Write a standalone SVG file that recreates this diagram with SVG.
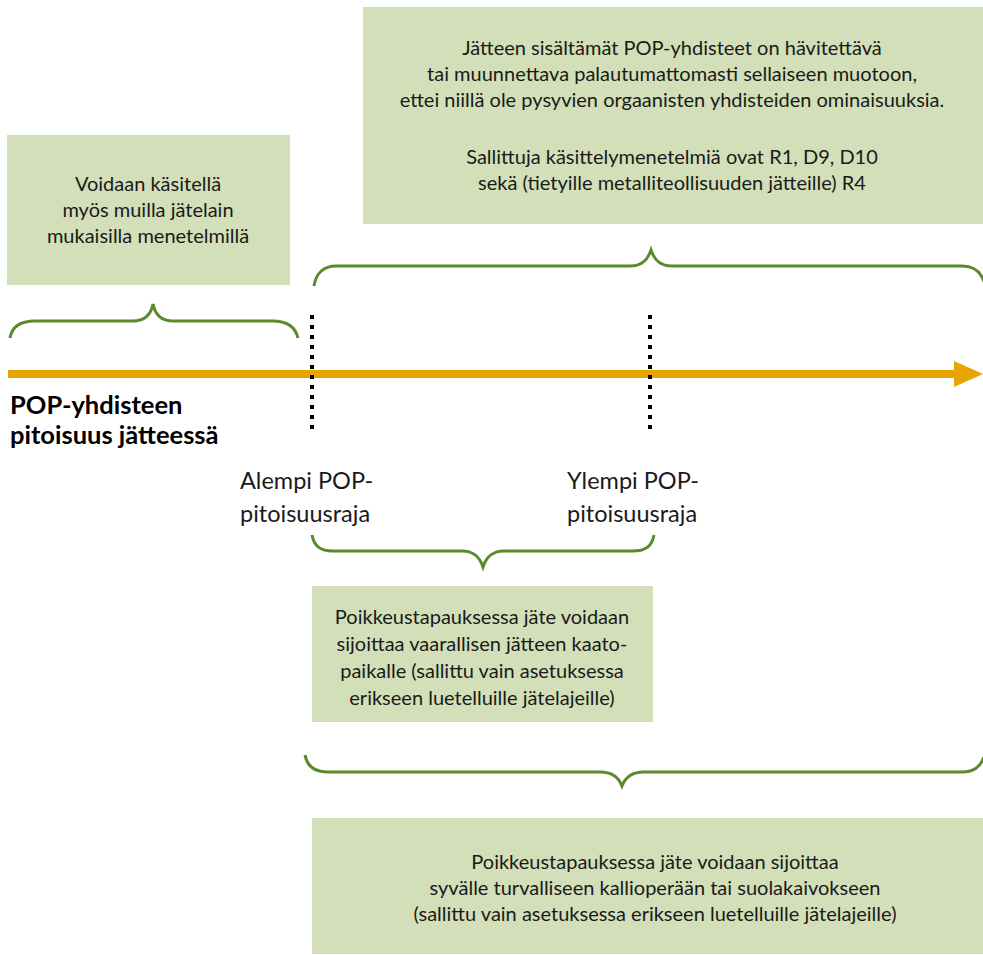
<svg xmlns="http://www.w3.org/2000/svg" width="983" height="955" viewBox="0 0 983 955">
<defs>
<style>
.box{fill:#D3DFB8;}
.t{font-family:Lato,"Liberation Sans",sans-serif;font-size:20px;fill:#1a1a1a;text-anchor:middle;}
.lbl{font-family:Lato,"Liberation Sans",sans-serif;font-size:23.5px;fill:#1a1a1a;}
.bold{font-family:Lato,"Liberation Sans",sans-serif;font-size:25.5px;font-weight:bold;fill:#000;}
.brace{fill:none;stroke:#5A8A2A;stroke-width:3;}
.dots{stroke:#000;stroke-width:4;stroke-dasharray:4 6;}
</style>
</defs>
<rect width="983" height="955" fill="#fff"/>
<g id="box-top">
<rect class="box" x="363" y="7" width="620" height="217"/>
<text class="t" x="672" y="55">Jätteen sisältämät POP-yhdisteet on hävitettävä</text>
<text class="t" x="672" y="81">tai muunnettava palautumattomasti sellaiseen muotoon,</text>
<text class="t" x="672" y="107">ettei niillä ole pysyvien orgaanisten yhdisteiden ominaisuuksia.</text>
<text class="t" x="672" y="164">Sallittuja käsittelymenetelmiä ovat R1, D9, D10</text>
<text class="t" x="672" y="190">sekä (tietyille metalliteollisuuden jätteille) R4</text>
</g>
<g id="box-left">
<rect class="box" x="7" y="135" width="283" height="150"/>
<text class="t" x="148" y="191">Voidaan käsitellä</text>
<text class="t" x="148" y="217">myös muilla jätelain</text>
<text class="t" x="148" y="243">mukaisilla menetelmillä</text>
</g>
<g id="box-mid">
<rect class="box" x="312" y="586" width="341" height="136"/>
<text class="t" x="482" y="624">Poikkeustapauksessa jäte voidaan</text>
<text class="t" x="482" y="651">sijoittaa vaarallisen jätteen kaato-</text>
<text class="t" x="482" y="678">paikalle (sallittu vain asetuksessa</text>
<text class="t" x="482" y="705">erikseen luetelluille jätelajeille)</text>
</g>
<g id="box-bottom">
<rect class="box" x="312" y="818" width="671" height="136"/>
<text class="t" x="655" y="869">Poikkeustapauksessa jäte voidaan sijoittaa</text>
<text class="t" x="655" y="895">syvälle turvalliseen kallioperään tai suolakaivokseen</text>
<text class="t" x="655" y="921">(sallittu vain asetuksessa erikseen luetelluille jätelajeille)</text>
</g>
<g id="axis">
<line x1="8" y1="374" x2="958" y2="374" stroke="#E8A400" stroke-width="8"/>
<polygon points="954,361 983,374 954,387" fill="#E8A400"/>
<text class="bold" x="10" y="414">POP-yhdisteen</text>
<text class="bold" x="10" y="444">pitoisuus jätteessä</text>
</g>
<g id="limit-lower">
<line class="dots" x1="312" y1="315" x2="312" y2="433"/>
<text class="lbl" x="240" y="489">Alempi POP-</text>
<text class="lbl" x="240" y="522">pitoisuusraja</text>
</g>
<g id="limit-upper">
<line class="dots" x1="650" y1="315" x2="650" y2="433"/>
<text class="lbl" x="567" y="489">Ylempi POP-</text>
<text class="lbl" x="567" y="522">pitoisuusraja</text>
</g>
<g id="connectors">
<path class="brace" d="M10,338 C12,326 22,321 35,321 L133,321 C146,321 151,314 153,304 C155,314 160,321 173,321 L273,321 C286,321 295,326 298,338"/>
<path class="brace" d="M314,286 C316,273 324,266 336,266 L630,266 C643,266 648,259 651,250 C654,259 659,266 672,266 L962,266 C974,266 981,272 984,282"/>
<path class="brace" d="M312,535 C314,546 320,551 333,551 L462,551 C475,551 480,558 483,567 C486,558 491,551 504,551 L633,551 C646,551 652,546 654,535"/>
<path class="brace" d="M305,755 C307,766 314,772 328,772 L600,772 C613,772 619,778 622,786 C625,778 631,772 644,772 L962,772 C974,772 980,767 984,757"/>
</g>
</svg>
